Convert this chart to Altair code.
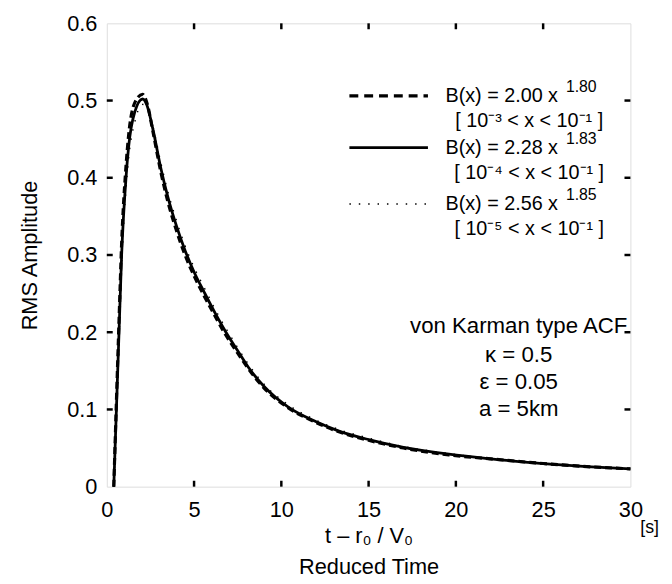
import altair as alt
import pandas as pd

# ---------------- data ----------------
t_vals = [0.4, 0.55, 0.7, 0.85, 1.1, 1.25, 1.6, 2.05, 2.3, 2.65, 3.1, 3.5, 4.0, 4.5, 5.0,
          5.6, 6.2, 6.8, 7.5, 8.1, 9.0, 10.4, 12, 13.3, 15, 17, 19.6, 22, 25, 27.5, 30]
solid_228 = [0.0, 0.10, 0.20, 0.30, 0.40, 0.44, 0.485, 0.502, 0.494, 0.462, 0.412, 0.375,
             0.337, 0.305, 0.278, 0.251, 0.225, 0.201, 0.176, 0.155, 0.130, 0.103, 0.084,
             0.072, 0.061, 0.051, 0.042, 0.036, 0.030, 0.026, 0.023]
dashed_200 = [0.0, 0.11, 0.215, 0.315, 0.415, 0.455, 0.497, 0.508, 0.497, 0.459, 0.407,
              0.369, 0.331, 0.299, 0.273, 0.246, 0.221, 0.197, 0.173, 0.153, 0.128, 0.102,
              0.083, 0.071, 0.060, 0.050, 0.041, 0.036, 0.030, 0.026, 0.023]
dotted_256 = [0.0, 0.085, 0.185, 0.285, 0.385, 0.425, 0.472, 0.495, 0.493, 0.466, 0.419,
              0.382, 0.344, 0.311, 0.284, 0.257, 0.230, 0.206, 0.180, 0.159, 0.133, 0.106,
              0.086, 0.074, 0.063, 0.052, 0.043, 0.036, 0.030, 0.026, 0.023]

x_ticks = [0, 5, 10, 15, 20, 25, 30]
y_ticks = [0, 0.1, 0.2, 0.3, 0.4, 0.5, 0.6]

legend_main = ["B(x) = 2.00 x", "B(x) = 2.28 x", "B(x) = 2.56 x"]
legend_exp = ["1.80", "1.83", "1.85"]
legend_range = ["[ 10\u207b\u00b3 < x < 10\u207b\u00b9 ]",
                "[ 10\u207b\u2074 < x < 10\u207b\u00b9 ]",
                "[ 10\u207b\u2075 < x < 10\u207b\u00b9 ]"]
legend_row_v = [0.506, 0.439, 0.366]
legend_range_v = [0.473, 0.406, 0.333]

note_lines = ["von Karman type ACF", "\u03ba = 0.5", "\u03b5 = 0.05", "a = 5km"]
note_v = [0.2085, 0.170, 0.136, 0.101]

# ---------------- layout ----------------
W, H = 530, 469
FONT = "Liberation Sans"
FS = 22
LFS = 20

xs = alt.Scale(domain=[0, 30], nice=False, zero=False)
ys = alt.Scale(domain=[0, 0.6], nice=False, zero=False)

ax_x = alt.Axis(values=x_ticks, tickSize=0, domain=False, grid=False,
                labelFont=FONT, labelFontSize=FS, labelPadding=13, labelColor="black",
                labelFlush=False,
                title=["t \u2013 r\u2080 / V\u2080", "Reduced Time"],
                titleFont=FONT, titleFontSize=FS, titleFontWeight="normal",
                titleColor="black", titlePadding=6, titleLineHeight=31)
ax_y = alt.Axis(values=y_ticks, tickSize=0, domain=False, grid=False,
                labelFont=FONT, labelFontSize=FS, labelPadding=10, labelColor="black",
                labelFlush=False,
                labelExpr="datum.value == 0 ? '0' : format(datum.value, '.1f')",
                title="RMS Amplitude", titleFont=FONT, titleFontSize=FS,
                titleFontWeight="normal", titleColor="black", titlePadding=26)


def X(field="t"):
    return alt.X(f"{field}:Q", scale=xs, axis=ax_x)


def Y(field="v"):
    return alt.Y(f"{field}:Q", scale=ys, axis=ax_y)


def series(vals):
    return pd.DataFrame({"t": t_vals, "v": vals})


line_solid = alt.Chart(series(solid_228)).mark_line(
    color="black", strokeWidth=2.8, interpolate="monotone").encode(x=X(), y=Y())
line_dashed = alt.Chart(series(dashed_200)).mark_line(
    color="black", strokeWidth=3.2, strokeDash=[7, 4], interpolate="monotone").encode(x=X(), y=Y())
line_dotted = alt.Chart(series(dotted_256)).mark_line(
    color="black", strokeWidth=1.4, strokeDash=[1.5, 8], interpolate="monotone").encode(x=X(), y=Y())

# inward ticks
xt = pd.DataFrame({"t": x_ticks[1:-1]})
yt = pd.DataFrame({"v": y_ticks[1:-1]})
tick_b = alt.Chart(xt).mark_rule(color="black", strokeWidth=2.5).encode(
    x=X(), y=alt.value(H), y2=alt.value(H - 6))
tick_t = alt.Chart(xt).mark_rule(color="black", strokeWidth=2.5).encode(
    x=X(), y=alt.value(0), y2=alt.value(6))
tick_l = alt.Chart(yt).mark_rule(color="black", strokeWidth=2.5).encode(
    y=Y(), x=alt.value(0), x2=alt.value(6))
tick_r = alt.Chart(yt).mark_rule(color="black", strokeWidth=2.5).encode(
    y=Y(), x=alt.value(W), x2=alt.value(W - 6))

# legend samples
leg_x0, leg_x1 = 13.9, 18.4


def leg_rule(i, **kw):
    df = pd.DataFrame({"t": [leg_x0], "t2": [leg_x1], "v": [legend_row_v[i]]})
    return alt.Chart(df).mark_rule(color="black", **kw).encode(
        x=X(), x2="t2:Q", y=Y())


leg_dashed = leg_rule(0, strokeWidth=3.2, strokeDash=[9, 6])
leg_solid = leg_rule(1, strokeWidth=2.8)
leg_dotted = leg_rule(2, strokeWidth=1.4, strokeDash=[1.5, 8])

main_df = pd.DataFrame({"t": [25.85] * 3, "v": legend_row_v, "label": legend_main})
exp_df = pd.DataFrame({"t": [25.85] * 3, "v": legend_row_v, "label": legend_exp})
rng_df = pd.DataFrame({"t": [24.2] * 3, "v": legend_range_v, "label": legend_range})

leg_main = alt.Chart(main_df).mark_text(
    align="right", baseline="middle", font=FONT, fontSize=LFS, color="black").encode(
    x=X(), y=Y(), text="label:N")
leg_exp = alt.Chart(exp_df).mark_text(
    align="left", baseline="middle", font=FONT, fontSize=16, color="black", dx=8, dy=-9).encode(
    x=X(), y=Y(), text="label:N")
leg_rng = alt.Chart(rng_df).mark_text(
    align="center", baseline="middle", font=FONT, fontSize=LFS, color="black").encode(
    x=X(), y=Y(), text="label:N")

note_df = pd.DataFrame({"t": [23.6] * 4, "v": note_v, "label": note_lines})
notes = alt.Chart(note_df).mark_text(
    align="center", baseline="middle", font=FONT, fontSize=22.5, color="black").encode(
    x=X(), y=Y(), text="label:N")

unit_df = pd.DataFrame({"t": [30], "label": ["[s]"]})
unit = alt.Chart(unit_df).mark_text(
    align="left", baseline="middle", font=FONT, fontSize=18, color="black", dx=10).encode(
    x=X(), y=alt.value(H + 42), text="label:N")

chart = alt.layer(
    line_dotted, line_dashed, line_solid,
    tick_b, tick_t, tick_l, tick_r,
    leg_dashed, leg_solid, leg_dotted,
    leg_main, leg_exp, leg_rng, notes, unit,
).properties(
    width=W, height=H,
    padding={"left": 100, "top": 12, "right": 34, "bottom": 95},
    autosize=alt.AutoSizeParams(type="none"),
).configure_view(
    stroke="black", strokeWidth=3
).configure(background="white")

chart.save("out.html", embed_options={"renderer": "svg", "actions": False})
